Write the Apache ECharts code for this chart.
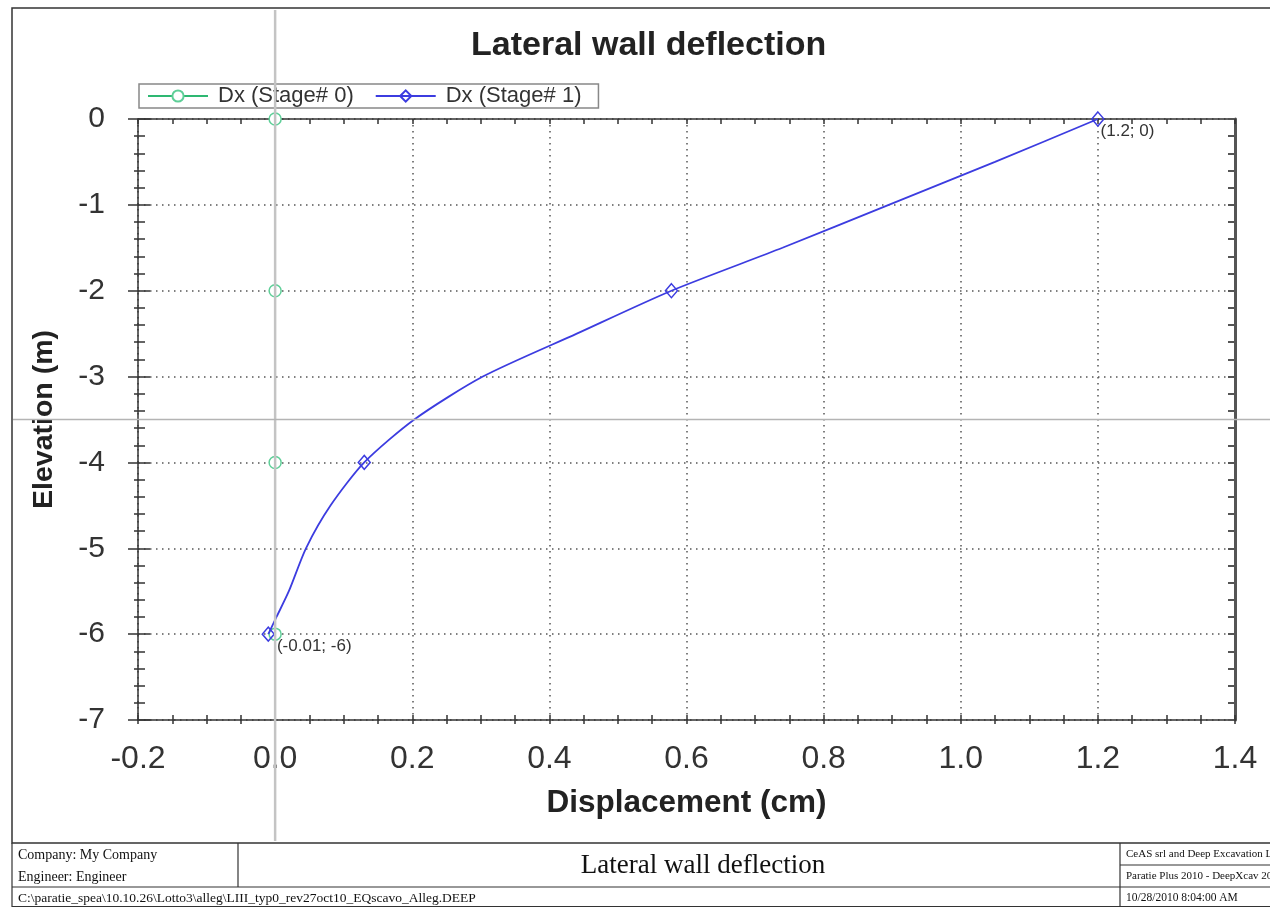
<!DOCTYPE html>
<html>
<head>
<meta charset="utf-8">
<script src="https://cdn.jsdelivr.net/npm/echarts@6/dist/echarts.min.js"></script>
<style>
html,body{margin:0;padding:0;background:#fff;}
#c{width:1270px;height:907px;}
</style>
</head>
<body>
<div id="c"></div>
<script>
// ---- data ----
const elevations = [0, -0.5, -1, -1.5, -2, -2.5, -3, -3.5, -4, -4.5, -5, -5.5, -5.8, -6];
const dxStage0   = [0, 0, 0, 0, 0, 0, 0, 0, 0, 0, 0, 0, 0, 0];
const dxStage1   = [1.2, 1.05, 0.895, 0.74, 0.578, 0.44, 0.303, 0.203, 0.13, 0.081, 0.045, 0.02, 0.002, -0.01];
const seriesNames = ['Dx (Stage# 0)', 'Dx (Stage# 1)'];
const xTicks = {min: -0.2, max: 1.4, interval: 0.2};
const yTicks = {min: -7, max: 0, interval: 1};
const crosshair = {x: 0, y: -3.5};
const titleText = 'Lateral wall deflection';
const xName = 'Displacement (cm)';
const yName = 'Elevation (m)';
const footer = {
  company: 'Company: My Company',
  engineer: 'Engineer: Engineer',
  title: 'Lateral wall deflection',
  file: 'C:\\paratie_spea\\10.10.26\\Lotto3\\alleg\\LIII_typ0_rev27oct10_EQscavo_Alleg.DEEP',
  vendor: 'CeAS srl and Deep Excavation LLC',
  product: 'Paratie Plus 2010 - DeepXcav 2010',
  date: '10/28/2010 8:04:00 AM'
};

const SANS = 'Liberation Sans, Arial, sans-serif';
const SERIF = 'Liberation Serif, Times New Roman, serif';

function buildData(xs, symbolName, labelOffsets) {
  return xs.map((x, i) => {
    const y = elevations[i];
    const item = {value: [x, y], symbol: (y % 2 === 0) ? symbolName : 'none'};
    if (labelOffsets) {
      if (i === 0) item.label = {show: true, offset: labelOffsets[0]};
      if (i === xs.length - 1) item.label = {show: true, offset: labelOffsets[1]};
    }
    return item;
  });
}

const chart = echarts.init(document.getElementById('c'));

const baseAxis = (extra) => Object.assign({
  type: 'value',
  axisLine: {show: false, onZero: false},
  axisLabel: {show: false},
  splitLine: {show: false},
  axisTick: {show: false},
  minorTick: {show: false}
}, extra);

const option = {
  backgroundColor: '#fff',
  animation: false,
  title: {
    text: titleText, left: 466, top: 24,
    textStyle: {fontFamily: SANS, fontSize: 34, fontWeight: 'bold', color: '#222'}
  },
  legend: {
    left: 139, top: 84,
    itemWidth: 60, itemHeight: 14, itemGap: 21,
    padding: [1, 17, 1, 8],
    borderColor: '#888', borderWidth: 1.5,
    textStyle: {fontFamily: SANS, fontSize: 22, color: '#333', padding: [0, 0, 0, 5]},
    data: seriesNames
  },
  grid: {left: 138, right: 35, top: 119, bottom: 187, containLabel: false},
  xAxis: [
    baseAxis({
      min: xTicks.min, max: xTicks.max, interval: xTicks.interval, position: 'bottom',
      axisLine: {show: true, onZero: false, lineStyle: {color: '#333', width: 1.5}},
      axisTick: {show: true, inside: true, length: 5, lineStyle: {color: '#333', width: 1.5}},
      minorTick: {show: true, splitNumber: 4, length: 5, lineStyle: {color: '#333', width: 1.5}},
      splitLine: {show: true, lineStyle: {color: '#555', width: 1.5, type: [1.5, 4.5]}},
      axisLabel: {show: true, fontFamily: SANS, fontSize: 32, color: '#333', margin: 23,
                  formatter: v => v.toFixed(1)},
      name: xName, nameLocation: 'middle', nameGap: 67,
      nameTextStyle: {fontFamily: SANS, fontSize: 31.5, fontWeight: 'bold', color: '#222'}
    }),
    baseAxis({
      min: xTicks.min, max: xTicks.max, interval: xTicks.interval, position: 'bottom',
      axisTick: {show: true, inside: false, length: 4, lineStyle: {color: '#333', width: 1.5}},
      minorTick: {show: true, splitNumber: 4, length: 4, lineStyle: {color: '#333', width: 1.5}}
    }),
    baseAxis({
      min: xTicks.min, max: xTicks.max, interval: xTicks.interval, position: 'top',
      axisLine: {show: true, onZero: false, lineStyle: {color: '#333', width: 1.5}},
      axisTick: {show: true, inside: true, length: 5, lineStyle: {color: '#333', width: 1.5}},
      minorTick: {show: true, splitNumber: 4, length: 5, lineStyle: {color: '#333', width: 1.5}}
    })
  ],
  yAxis: [
    baseAxis({
      min: yTicks.min, max: yTicks.max, interval: yTicks.interval, position: 'left',
      axisLine: {show: true, onZero: false, lineStyle: {color: '#333', width: 1.5}},
      axisTick: {show: true, inside: false, length: 10, lineStyle: {color: '#333', width: 1.5}},
      minorTick: {show: true, splitNumber: 5, length: 4, lineStyle: {color: '#333', width: 1.5}},
      splitLine: {show: true, lineStyle: {color: '#555', width: 1.5, type: [1.5, 4.5]}},
      axisLabel: {show: true, fontFamily: SANS, fontSize: 30, color: '#333', margin: 33},
      name: yName, nameLocation: 'middle', nameGap: 79,
      nameTextStyle: {fontFamily: SANS, fontSize: 28.5, fontWeight: 'bold', color: '#222'}
    }),
    baseAxis({
      min: yTicks.min, max: yTicks.max, interval: yTicks.interval, position: 'left',
      axisTick: {show: true, inside: true, length: 12, lineStyle: {color: '#333', width: 1.5}},
      minorTick: {show: true, splitNumber: 5, length: 7, lineStyle: {color: '#333', width: 1.5}}
    }),
    baseAxis({
      min: yTicks.min, max: yTicks.max, interval: yTicks.interval, position: 'right',
      axisLine: {show: true, onZero: false, lineStyle: {color: '#555', width: 3}},
      axisTick: {show: true, inside: true, length: 7, lineStyle: {color: '#555', width: 2}},
      minorTick: {show: true, splitNumber: 5, length: 7, lineStyle: {color: '#555', width: 2}}
    })
  ],
  series: [
    {
      name: seriesNames[0], type: 'line', xAxisIndex: 0, yAxisIndex: 0,
      data: buildData(dxStage0, 'circle', null),
      symbol: 'circle', symbolSize: 12, showAllSymbol: true,
      lineStyle: {color: '#2eb872', width: 1.5},
      itemStyle: {color: '#fff', borderColor: '#5fcf98', borderWidth: 1.5},
      z: 2
    },
    {
      name: seriesNames[1], type: 'line', xAxisIndex: 0, yAxisIndex: 0,
      data: buildData(dxStage1, 'diamond', [[-4, 12], [2, 12]]),
      symbol: 'diamond', symbolSize: [12, 14], showAllSymbol: true,
      smooth: 0.25,
      lineStyle: {color: '#3c3ce0', width: 1.8},
      itemStyle: {color: 'rgba(255,255,255,0)', borderColor: '#3c3ce0', borderWidth: 1.5},
      label: {
        show: false, position: 'right', distance: 0,
        fontFamily: SANS, fontSize: 17, color: '#333',
        formatter: p => '(' + p.value[0] + '; ' + p.value[1] + ')'
      },
      z: 3
    }
  ]
};
chart.setOption(option);

// crosshair & page furniture
const cx = chart.convertToPixel({xAxisIndex: 0}, crosshair.x);
const cy = chart.convertToPixel({yAxisIndex: 0}, crosshair.y);
const W = 1270, H = 907;
const fTop = 843, fMid = 865, fRow = 887;
const colA = 238, colB = 1120;
const ln = (x1, y1, x2, y2, c, w) => ({type: 'line', shape: {x1, y1, x2, y2}, silent: true,
  style: {stroke: c || '#333', lineWidth: w || 1.2}, z: 100});
const tx = (x, y, text, size, font, align) => ({type: 'text', x, y, silent: true, z: 100,
  style: {text, fontSize: size, fontFamily: font, fill: '#111', align: align || 'left', verticalAlign: 'middle'}});

chart.setOption({
  graphic: [
    {type: 'line', shape: {x1: cx, y1: 10, x2: cx, y2: fTop - 2}, silent: true,
     style: {stroke: '#c4c4c4', lineWidth: 2.5}, z: 50},
    {type: 'line', shape: {x1: 13, y1: cy, x2: W, y2: cy}, silent: true,
     style: {stroke: '#b4b4b4', lineWidth: 1.5}, z: 50},
    {type: 'rect', shape: {x: 12, y: 8, width: W + 20, height: fTop - 8}, silent: true,
     style: {fill: 'none', stroke: '#333', lineWidth: 1.5}, z: 100},
    ln(12, fTop, 12, H), ln(12, fRow, W, fRow), ln(12, H - 0.5, W, H - 0.5),
    ln(colA, fTop, colA, fRow), ln(colB, fTop, colB, H), ln(colB, fMid, W, fMid),
    tx(18, 855, footer.company, 14, SERIF),
    tx(18, 877, footer.engineer, 14, SERIF),
    tx(703, 866, footer.title, 27, SERIF, 'center'),
    tx(18, 898, footer.file, 13.5, SERIF),
    tx(1126, 854, footer.vendor, 11, SERIF),
    tx(1126, 876, footer.product, 11, SERIF),
    tx(1126, 898, footer.date, 11.5, SERIF)
  ]
});
</script>
</body>
</html>
